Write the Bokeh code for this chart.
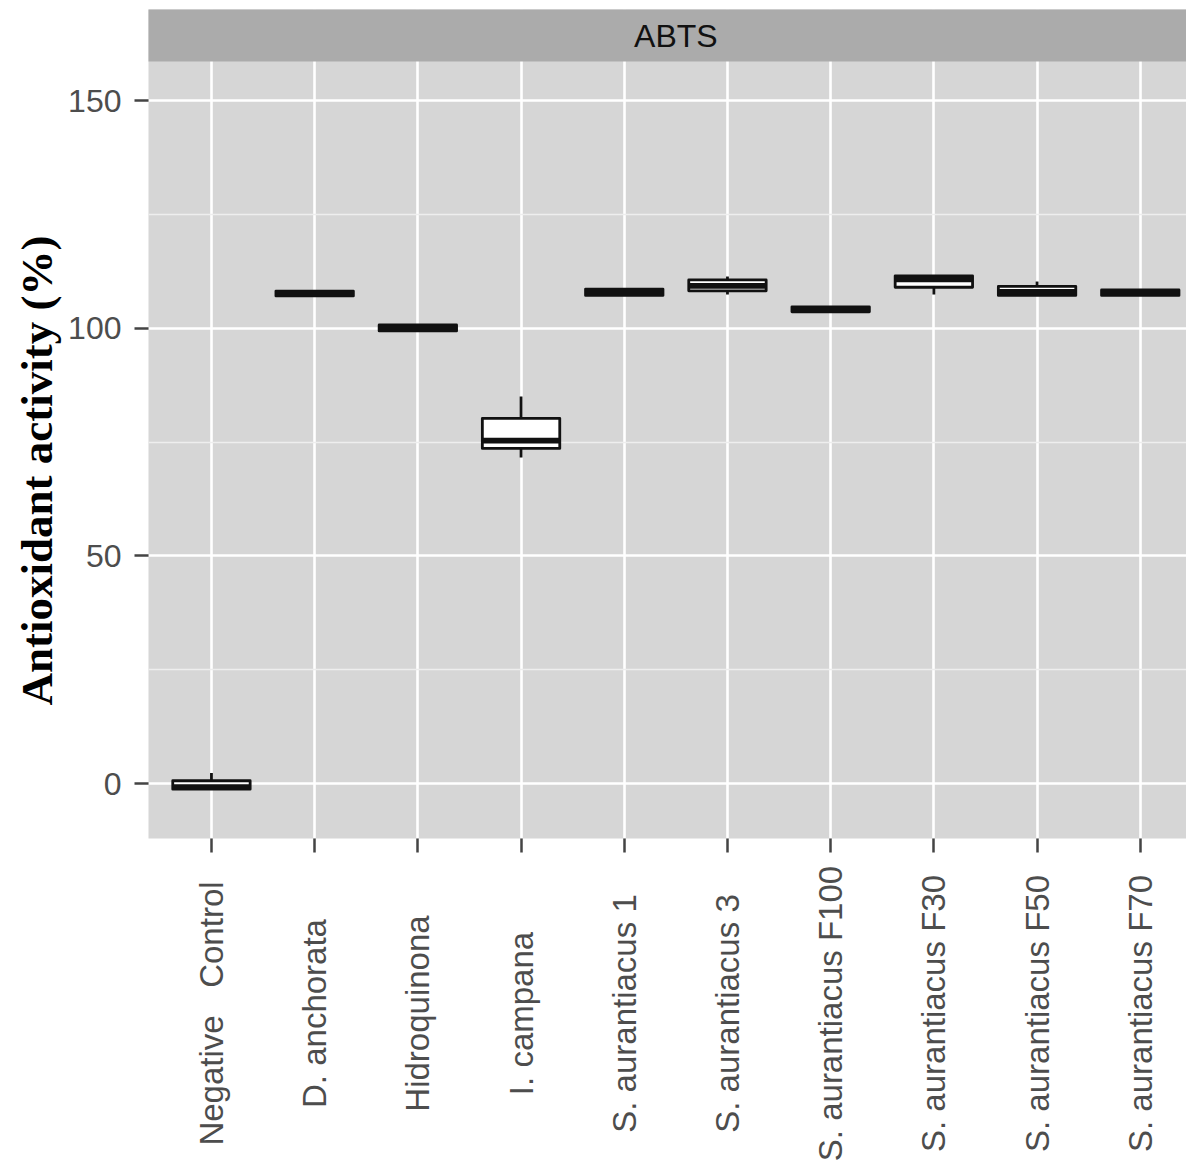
import math
from bokeh.plotting import figure
from bokeh.layouts import column
from bokeh.models import ColumnDataSource, FixedTicker, Range1d, Title
from bokeh.embed import file_html
from bokeh.resources import INLINE
from bokeh.core.properties import value

# ---- data ----
categories = ["Negative\u00a0\u00a0\u00a0Control", "D. anchorata", "Hidroquinona", "I. campana",
              "S. aurantiacus 1", "S. aurantiacus 3", "S. aurantiacus F100",
              "S. aurantiacus F30", "S. aurantiacus F50", "S. aurantiacus F70"]
whisker_low = [-1.3, 107.1, 99.4, 71.6, 107.2, 107.4, 103.6, 107.4, 107.2, 107.2]
q1 = [-1.25, 107.1, 99.4, 73.6, 107.2, 108.2, 103.6, 109.0, 107.2, 107.2]
median = [-0.8, 107.6, 100.0, 75.3, 107.9, 109.3, 104.1, 110.7, 108.0, 107.8]
q3 = [0.6, 108.15, 100.7, 80.2, 108.6, 110.6, 104.7, 111.5, 109.2, 108.4]
whisker_high = [2.3, 108.15, 100.7, 85.0, 108.6, 111.35, 104.7, 111.5, 110.25, 108.4]
y_ticks = [0, 50, 100, 150]
y_minor = [25, 75, 125]
strip_label = "ABTS"
y_title = "Antioxidant activity (%)"

# ---- layout constants ----
panel_bottom, panel_top, strip_top = -12.08, 158.57, 170.0
x_start, x_end = 0.39, 10.448
box_w = 0.75
ink = "#111111"
W = 1186
LEFT = 148
MAIN_H = 860
TOTAL_H = 1167

xs = [i + 1 for i in range(len(categories))]

p = figure(width=W, height=MAIN_H, x_range=Range1d(x_start, x_end),
           y_range=Range1d(panel_bottom, strip_top),
           output_backend="svg", toolbar_location=None,
           min_border_left=LEFT, min_border_right=0, min_border_top=9,
           min_border_bottom=MAIN_H - 838, background_fill_color="#d6d6d6",
           border_fill_color="white", outline_line_color=None)

src = ColumnDataSource(dict(x=xs, left=[x - box_w / 2 for x in xs],
                            right=[x + box_w / 2 for x in xs],
                            lo=whisker_low, q1=q1, med=median, q3=q3, hi=whisker_high))

# whiskers
p.segment(x0="x", y0="lo", x1="x", y1="q1", source=src, line_color=ink, line_width=2.8)
p.segment(x0="x", y0="q3", x1="x", y1="hi", source=src, line_color=ink, line_width=2.8)
# boxes
p.quad(left="left", right="right", bottom="q1", top="q3", source=src,
       fill_color="white", line_color=ink, line_width=2.8, line_join="round")
# medians
p.segment(x0="left", y0="med", x1="right", y1="med", source=src,
          line_color=ink, line_width=5.6, line_cap="butt")

# facet strip
p.quad(left=[x_start], right=[x_end], bottom=[panel_top], top=[strip_top],
       fill_color="#ababab", line_color=None, level="overlay")
p.text(x=[5.5], y=[(panel_top + strip_top) / 2], text=[strip_label],
       text_align="center", text_baseline="middle", text_font_size="32px",
       text_font=value("Liberation Sans"), text_color="#111111", level="overlay")

# axes
p.xaxis.ticker = FixedTicker(ticks=xs)
p.xaxis.major_label_overrides = {x: "" for x in xs}
p.xaxis.major_label_text_font_size = "0px"
p.xaxis.major_label_standoff = 0
p.yaxis.ticker = FixedTicker(ticks=y_ticks, minor_ticks=y_minor)
for ax in (p.xaxis[0], p.yaxis[0]):
    ax.axis_line_color = None
    ax.major_tick_line_color = "#444444"
    ax.major_tick_line_width = 2.5
    ax.major_tick_out = 14
    ax.major_tick_in = 0
    ax.minor_tick_line_color = None
p.yaxis.major_label_text_font_size = "32px"
p.yaxis.major_label_text_font = "Liberation Sans"
p.yaxis.major_label_text_color = "#4d4d4d"
p.yaxis.major_label_standoff = 13

# y title (placed along the axis as in the reference)
p.add_layout(Title(text=y_title, align="left", offset=133, standoff=8,
                   text_font="Liberation Serif", text_font_style="bold",
                   text_font_size="45px", text_color="black"), "left")

# grid
p.xgrid.grid_line_color = "white"
p.xgrid.grid_line_width = 2.6
p.ygrid.grid_line_color = "white"
p.ygrid.grid_line_width = 2.6
p.ygrid.minor_grid_line_color = "#eeeeee"
p.ygrid.minor_grid_line_width = 1.3

# category labels below the axis (vertical, centered like ggplot)
LH = TOTAL_H - MAIN_H
p2 = figure(width=W, height=LH, x_range=p.x_range, y_range=Range1d(0, LH),
            output_backend="svg", toolbar_location=None,
            x_axis_location=None, y_axis_location=None,
            min_border_left=LEFT, min_border_right=0, min_border_top=0,
            min_border_bottom=0, background_fill_color="white",
            border_fill_color="white", outline_line_color=None)
p2.grid.visible = False
p2.text(x=xs, y=[LH - (1013 - MAIN_H)] * len(xs), text=categories, angle=math.pi / 2,
        text_align="center", text_baseline="middle", text_font_size="33px",
        text_font=value("Liberation Sans"), text_color="#4d4d4d")

layout = column(p, p2, spacing=0)
open("out.html", "w").write(file_html(layout, INLINE))
